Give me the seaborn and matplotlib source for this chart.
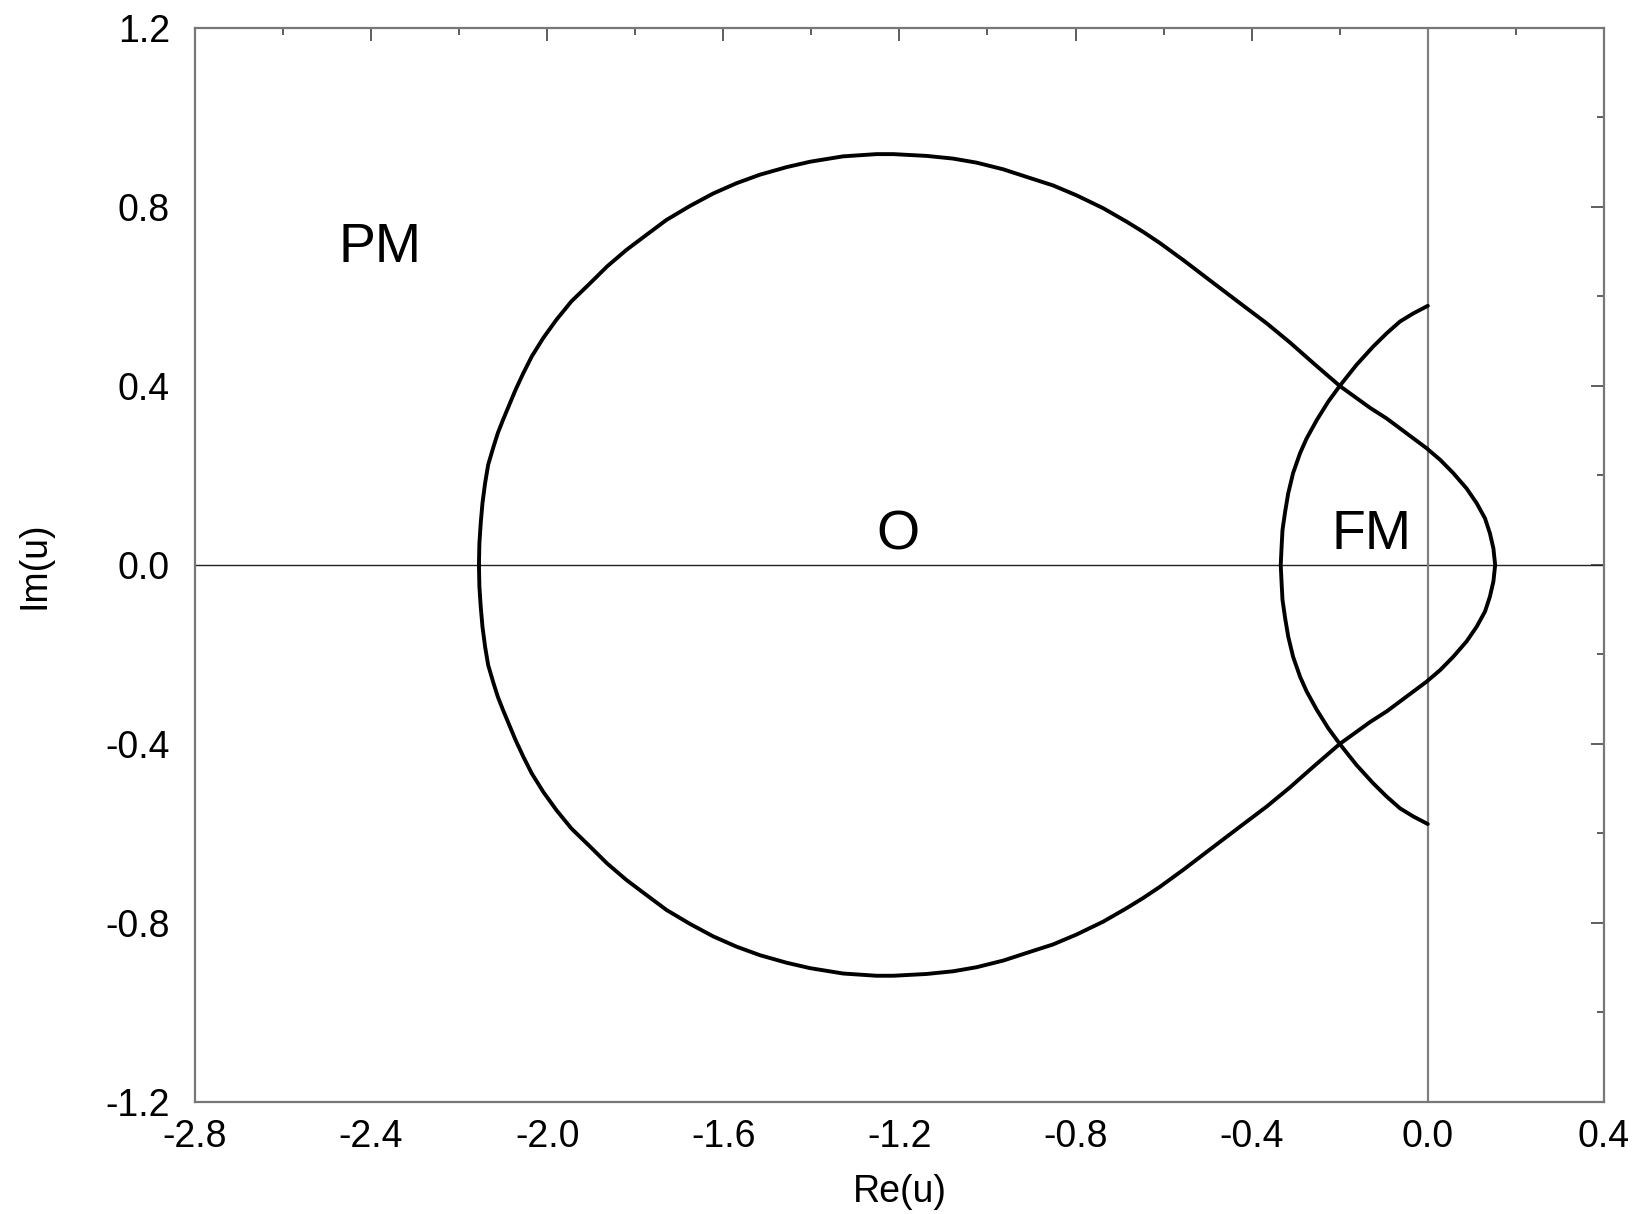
# Phase boundaries in the complex u plane (PM / O / FM regions)
import numpy as np
import pandas as pd
import matplotlib
matplotlib.use("Agg")
import matplotlib.pyplot as plt
import seaborn as sns
from matplotlib.ticker import MultipleLocator, FormatStrFormatter

# Big teardrop boundary, upper half (Re, Im)
loop_re = [-2.155, -2.154, -2.151, -2.147, -2.141, -2.134, -2.122, -2.112, -2.100,
           -2.086, -2.072, -2.054, -2.035, -2.009, -1.979, -1.945, -1.903, -1.864,
           -1.820, -1.774, -1.729, -1.676, -1.623, -1.570, -1.517, -1.456, -1.403,
           -1.328, -1.252, -1.214, -1.138, -1.078, -1.025, -0.964, -0.911, -0.851,
           -0.798, -0.737, -0.684, -0.646, -0.608, -0.555, -0.495, -0.424, -0.366,
           -0.313, -0.260, -0.200, -0.162, -0.131, -0.093, -0.063, -0.033, -0.003,
           0.028, 0.058, 0.088, 0.111, 0.130, 0.141, 0.149, 0.153]
loop_im = [0.000, 0.048, 0.093, 0.138, 0.183, 0.224, 0.264, 0.295, 0.325,
           0.358, 0.391, 0.429, 0.466, 0.507, 0.548, 0.589, 0.629, 0.667,
           0.704, 0.738, 0.771, 0.802, 0.830, 0.853, 0.872, 0.889, 0.901,
           0.913, 0.918, 0.918, 0.914, 0.908, 0.899, 0.884, 0.867, 0.848,
           0.826, 0.797, 0.767, 0.744, 0.719, 0.681, 0.636, 0.583, 0.540,
           0.497, 0.451, 0.400, 0.373, 0.351, 0.327, 0.305, 0.283, 0.261,
           0.235, 0.205, 0.171, 0.138, 0.104, 0.071, 0.037, 0.000]

# Crescent boundary, upper half
arc_re = [0.000, -0.033, -0.063, -0.093, -0.124, -0.162, -0.200, -0.226, -0.252,
          -0.275, -0.290, -0.306, -0.317, -0.324, -0.330, -0.332, -0.334]
arc_im = [0.579, 0.562, 0.544, 0.518, 0.488, 0.447, 0.400, 0.365, 0.324,
          0.283, 0.250, 0.205, 0.160, 0.119, 0.078, 0.041, 0.000]

# Region labels
region_names = ["PM", "O", "FM"]
region_re = [-2.38, -1.203, -0.127]
region_im = [0.708, 0.065, 0.068]

x_ticks = [-2.8, -2.4, -2.0, -1.6, -1.2, -0.8, -0.4, 0.0, 0.4]
y_ticks = [-1.2, -0.8, -0.4, 0.0, 0.4, 0.8, 1.2]


def mirrored(re, im):
    # upper half, then the mirrored lower half (the picture is symmetric in Im)
    re = np.array(re)
    im = np.array(im)
    full_re = np.concatenate([re, re[::-1][1:]])
    full_im = np.concatenate([im, -im[::-1][1:]])
    return pd.DataFrame({"re": full_re, "im": full_im})


loop_df = mirrored(loop_re, loop_im)
arc_df = mirrored(arc_re, arc_im)

sns.set_theme(style="white")
plt.rcParams["font.family"] = ["Liberation Sans", "DejaVu Sans"]
plt.rcParams["axes.unicode_minus"] = False
plt.rcParams["text.color"] = "black"
plt.rcParams["axes.labelcolor"] = "black"

fig = plt.figure(figsize=(16.41, 12.14), dpi=100)
ax = fig.add_axes([0.1188, 0.0923, 0.8586, 0.8847])

# Reference axes through the origin
ax.axhline(0, color="#222222", lw=1.0, zorder=1)
ax.axvline(0, color="#808080", lw=1.6, zorder=1)

sns.lineplot(data=loop_df, x="re", y="im", sort=False, estimator=None,
             color="black", lw=2.8, ax=ax, zorder=3)
sns.lineplot(data=arc_df, x="re", y="im", sort=False, estimator=None,
             color="black", lw=2.8, ax=ax, zorder=3)

for name, xr, yi in zip(region_names, region_re, region_im):
    ax.text(xr, yi, name, fontsize=40, ha="center", va="center", color="black")

ax.set_xlim(-2.8, 0.4)
ax.set_ylim(-1.2, 1.2)
ax.set_xticks(x_ticks)
ax.set_yticks(y_ticks)
ax.xaxis.set_minor_locator(MultipleLocator(0.2))
ax.yaxis.set_minor_locator(MultipleLocator(0.2))
ax.xaxis.set_major_formatter(FormatStrFormatter("%.1f"))
ax.yaxis.set_major_formatter(FormatStrFormatter("%.1f"))

ax.tick_params(which="both", direction="in", top=True, right=True,
               color="#333333", width=1.1, labelcolor="black")
ax.tick_params(which="major", length=9.5, labelsize=27)
ax.tick_params(which="minor", length=4.8)
ax.tick_params(axis="x", which="major", pad=12)
ax.tick_params(axis="y", which="major", pad=18)

for side in ax.spines.values():
    side.set_color("#777777")
    side.set_linewidth(1.6)

ax.set_xlabel("Re(u)", fontsize=27, labelpad=14)
ax.set_ylabel("Im(u)", fontsize=27, labelpad=38)

fig.savefig("out.png", dpi=100, facecolor="white")
